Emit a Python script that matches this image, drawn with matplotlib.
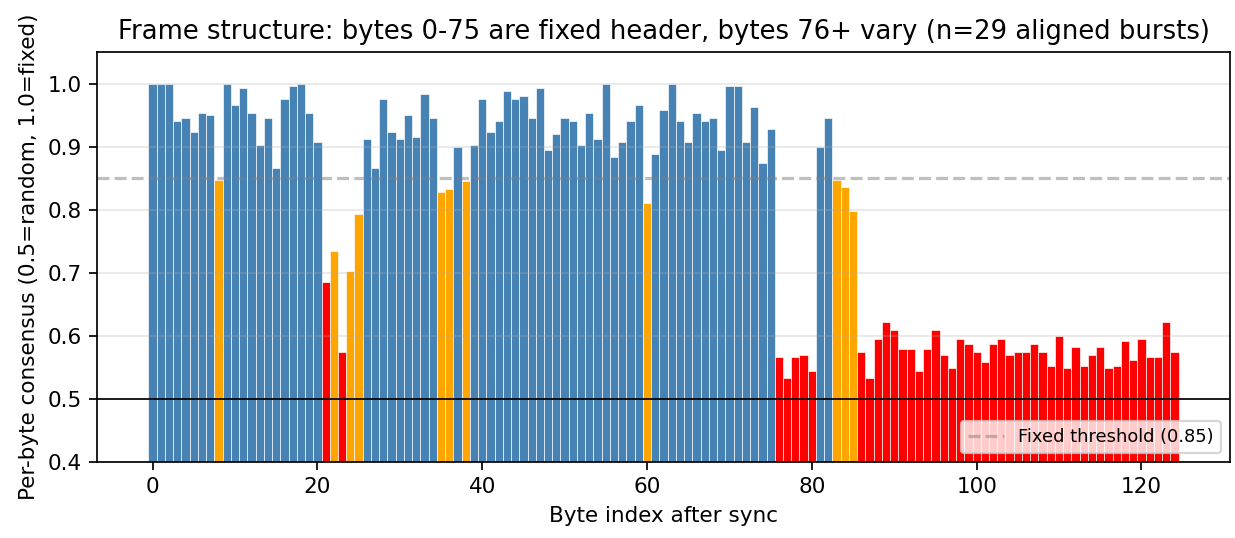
import numpy as np
import matplotlib
matplotlib.use("Agg")
import matplotlib.pyplot as plt

# Per-byte consensus (bytes 0..124)
consensus = [
    1.000, 1.000, 1.000, 0.941, 0.946, 0.924, 0.954, 0.950, 0.848, 1.000,
    0.967, 0.993, 0.954, 0.903, 0.946, 0.867, 0.976, 0.997, 1.000, 0.954,
    0.907, 0.686, 0.734, 0.575, 0.703, 0.794, 0.912, 0.867, 0.976, 0.924,
    0.912, 0.950, 0.916, 0.984, 0.946, 0.829, 0.833, 0.899, 0.846, 0.903,
    0.976, 0.924, 0.941, 0.988, 0.976, 0.980, 0.946, 0.993, 0.895, 0.920,
    0.946, 0.941, 0.903, 0.954, 0.912, 1.000, 0.884, 0.907, 0.941, 0.967,
    0.811, 0.888, 0.959, 1.000, 0.941, 0.907, 0.954, 0.941, 0.946, 0.895,
    0.997, 0.997, 0.907, 0.963, 0.875, 0.929, 0.566, 0.534, 0.566, 0.570,
    0.544, 0.899, 0.946, 0.848, 0.837, 0.798, 0.575, 0.534, 0.596, 0.622,
    0.609, 0.579, 0.579, 0.545, 0.579, 0.609, 0.570, 0.549, 0.596, 0.587,
    0.575, 0.558, 0.587, 0.596, 0.570, 0.575, 0.575, 0.587, 0.575, 0.553,
    0.600, 0.549, 0.583, 0.553, 0.570, 0.583, 0.549, 0.553, 0.592, 0.562,
    0.596, 0.566, 0.566, 0.622, 0.575,
]
byte_idx = np.arange(len(consensus))
threshold = 0.85

# colour by consensus level: fixed / borderline / varying
colors = []
for v in consensus:
    if v >= threshold:
        colors.append("steelblue")
    elif v >= 0.7:
        colors.append("orange")
    else:
        colors.append("red")

dpi = 155
fig, ax = plt.subplots(figsize=(1235 / dpi, 538 / dpi), dpi=dpi)
ax.bar(byte_idx, consensus, width=1.0, color=colors, edgecolor="white", linewidth=0.3)
ax.axhline(threshold, color="gray", linestyle="--", alpha=0.5,
           label=f"Fixed threshold ({threshold})")
ax.axhline(0.5, color="black", linewidth=0.8)

ax.set_ylim(0.4, 1.05)
ax.set_xlabel("Byte index after sync")
ax.set_ylabel("Per-byte consensus (0.5=random, 1.0=fixed)")
ax.set_title("Frame structure: bytes 0-75 are fixed header, bytes 76+ vary (n=29 aligned bursts)")
ax.grid(axis="y", alpha=0.3)
ax.legend(loc="lower right", fontsize="small")

fig.subplots_adjust(left=0.0785, right=0.996, bottom=0.141, top=0.903)
plt.savefig("out.png", dpi=dpi)
